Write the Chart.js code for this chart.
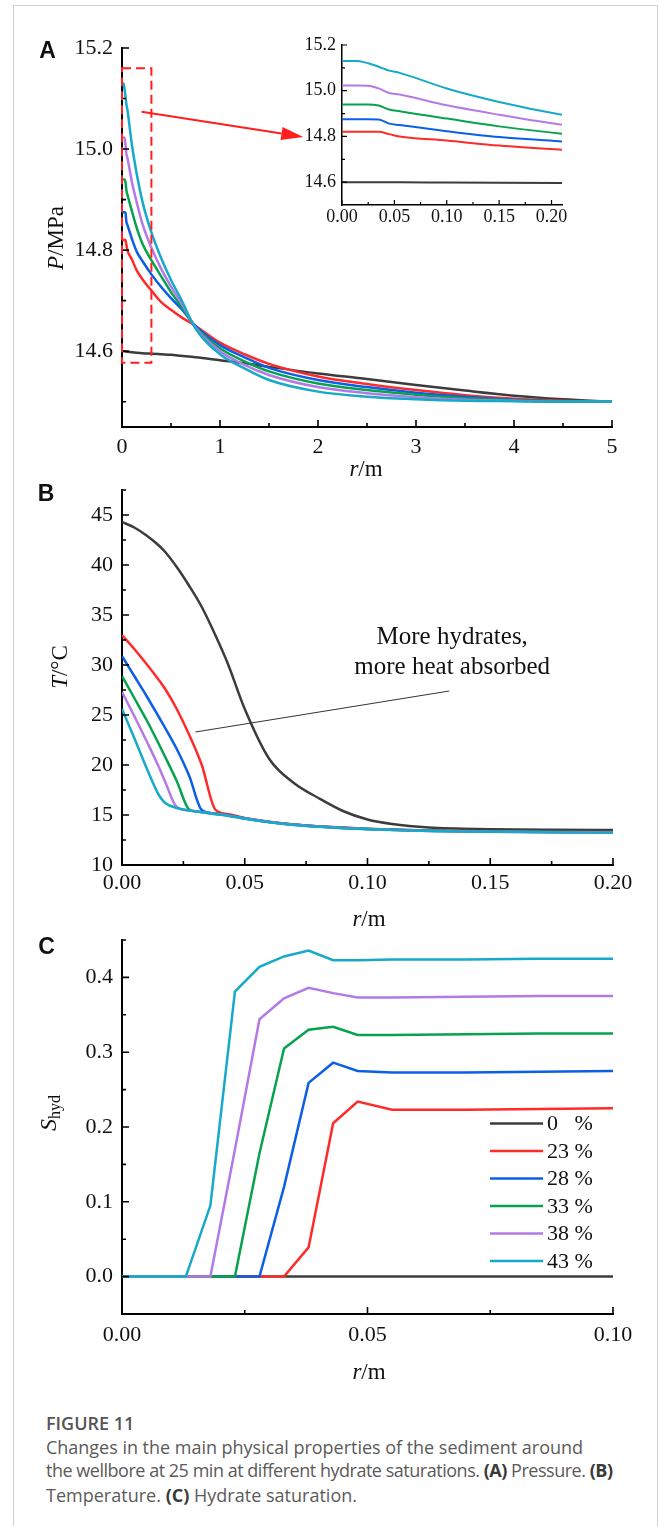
<!DOCTYPE html>
<html>
<head>
<meta charset="utf-8">
<script src="https://cdn.jsdelivr.net/npm/chart.js@4.4.1/dist/chart.umd.min.js"></script>
<style>
  html, body { margin: 0; padding: 0; background: #fff; }
  body { width: 659px; height: 1526px; position: relative; overflow: hidden; }
  #frame { position: absolute; left: 13px; top: 5px; width: 643px; height: 1600px; border: 1px solid #d2d2d2; }
  canvas { position: absolute; }
  .cap { position: absolute; left: 46px; font-family: "Open Sans", sans-serif; font-size: 18px; line-height: 24px; color: #5a5a5a; white-space: nowrap; }
  .cap b { color: #3a3a3a; font-weight: 700; }
  #fig { font-weight: 600; color: #555; }
</style>
</head>
<body>
<div id="frame"></div>
<canvas id="cA" width="659" height="482" style="left:0;top:0"></canvas>
<canvas id="cIn" width="300" height="225" style="left:290px;top:20px"></canvas>
<canvas id="cB" width="659" height="460" style="left:0;top:470px"></canvas>
<canvas id="cC" width="659" height="470" style="left:0;top:920px"></canvas>

<div class="cap" id="fig" style="top:1411px">FIGURE 11</div>
<div class="cap line" style="top:1435px" data-w="537">Changes in the main physical properties of the sediment around</div>
<div class="cap line" style="top:1458px" data-w="567">the wellbore at 25 min at different hydrate saturations. <b>(A)</b> Pressure. <b>(B)</b></div>
<div class="cap line" style="top:1483px" data-w="311">Temperature. <b>(C)</b> Hydrate saturation.</div>

<script>
// hydrate saturation of each case (legend)
const satLabels = ['0', '23', '28', '33', '38', '43'];
const colors = ['#3c3c3c', '#ff2b2b', '#0b5fe6', '#07a24e', '#b479e6', '#17a9c9'];

// (A) pressure, r in m, P in MPa
const rA = [0, 0.015, 0.025, 0.035, 0.045, 0.055, 0.1, 0.15, 0.21, 0.3, 0.4, 0.5, 0.6, 0.75, 1, 1.25, 1.5, 2, 2.5, 3, 3.5, 4, 4.5, 5];
const pS0  = [14.6, 14.6, 14.6, 14.6, 14.599, 14.599, 14.598, 14.597, 14.596, 14.595, 14.594, 14.593, 14.591, 14.588, 14.582, 14.576, 14.569, 14.556, 14.545, 14.533, 14.522, 14.512, 14.505, 14.5];
const pS23 = [14.82, 14.82, 14.82, 14.82, 14.81, 14.8, 14.782, 14.76, 14.742, 14.72, 14.697, 14.682, 14.668, 14.65, 14.617, 14.594, 14.575, 14.55, 14.535, 14.523, 14.513, 14.506, 14.502, 14.5];
const pS28 = [14.875, 14.875, 14.875, 14.874, 14.856, 14.85, 14.823, 14.797, 14.778, 14.752, 14.727, 14.705, 14.685, 14.65, 14.612, 14.588, 14.567, 14.543, 14.529, 14.518, 14.51, 14.504, 14.501, 14.5];
const pS33 = [14.94, 14.94, 14.94, 14.935, 14.918, 14.91, 14.878, 14.844, 14.812, 14.78, 14.748, 14.717, 14.69, 14.648, 14.606, 14.58, 14.56, 14.536, 14.523, 14.514, 14.507, 14.503, 14.501, 14.5];
const pS38 = [15.023, 15.023, 15.022, 15.01, 14.99, 14.983, 14.936, 14.895, 14.851, 14.805, 14.763, 14.728, 14.697, 14.647, 14.6, 14.573, 14.553, 14.529, 14.517, 14.509, 14.504, 14.502, 14.5, 14.5];
const pS43 = [15.13, 15.13, 15.12, 15.105, 15.088, 15.078, 15.01, 14.951, 14.895, 14.835, 14.784, 14.741, 14.704, 14.645, 14.594, 14.566, 14.543, 14.52, 14.51, 14.505, 14.502, 14.501, 14.5, 14.5];

// (B) temperature, r in m, T in degC
const rB = [0, 0.005, 0.01, 0.015, 0.0176, 0.0223, 0.0274, 0.0325, 0.038, 0.043, 0.05, 0.06, 0.07, 0.08, 0.09, 0.1, 0.11, 0.125, 0.15, 0.175, 0.2];
const tS0  = [44.3, 43.75, 42.95, 41.95, 41.3, 39.8, 37.9, 35.8, 33.0, 30.2, 25.6, 20.6, 18.2, 16.7, 15.4, 14.55, 14.1, 13.75, 13.58, 13.52, 13.5];
const tS23 = [33.0, 31.6, 30.1, 28.5, 27.6, 25.6, 23.0, 20.0, 15.55, 15.1, 14.7, 14.33, 14.05, 13.88, 13.74, 13.63, 13.55, 13.45, 13.37, 13.32, 13.3];
const tS28 = [30.9, 28.9, 26.9, 24.8, 23.7, 21.6, 18.9, 15.5, 15.15, 15.0, 14.68, 14.31, 14.04, 13.86, 13.72, 13.61, 13.53, 13.43, 13.35, 13.3, 13.28];
const tS33 = [28.9, 26.7, 24.5, 22.1, 20.8, 18.4, 15.55, 15.3, 15.12, 14.97, 14.66, 14.3, 14.03, 13.85, 13.71, 13.6, 13.52, 13.42, 13.34, 13.29, 13.27];
const tS38 = [27.3, 24.9, 22.4, 19.8, 18.3, 15.8, 15.45, 15.28, 15.1, 14.95, 14.64, 14.29, 14.02, 13.84, 13.7, 13.59, 13.51, 13.41, 13.33, 13.28, 13.26];
const tS43 = [25.6, 22.7, 19.7, 17.0, 16.2, 15.7, 15.45, 15.27, 15.08, 14.93, 14.62, 14.27, 14.0, 13.82, 13.68, 13.57, 13.5, 13.4, 13.32, 13.27, 13.25];

// (C) hydrate saturation
const rC = [0, 0.013, 0.018, 0.023, 0.028, 0.033, 0.038, 0.043, 0.048, 0.055, 0.07, 0.085, 0.1];
const hS0  = [0, 0, 0, 0, 0, 0, 0, 0, 0, 0, 0, 0, 0];
const hS23 = [0, 0, 0, 0, 0, 0, 0.039, 0.205, 0.234, 0.223, 0.223, 0.224, 0.225];
const hS28 = [0, 0, 0, 0, 0, 0.12, 0.259, 0.286, 0.275, 0.273, 0.273, 0.274, 0.275];
const hS33 = [0, 0, 0, 0, 0.165, 0.305, 0.33, 0.334, 0.323, 0.323, 0.324, 0.325, 0.325];
const hS38 = [0, 0, 0, 0.17, 0.344, 0.372, 0.386, 0.379, 0.373, 0.373, 0.374, 0.375, 0.375];
const hS43 = [0, 0, 0.095, 0.381, 0.414, 0.428, 0.436, 0.423, 0.423, 0.424, 0.424, 0.425, 0.425];

// tick values
const aXTicks = [0, 1, 2, 3, 4, 5], aXMinor = [0.5, 1.5, 2.5, 3.5, 4.5];
const aYTicks = [14.6, 14.8, 15.0, 15.2], aYMinor = [14.5, 14.7, 14.9, 15.1];
const inXTicks = [0, 0.05, 0.1, 0.15, 0.2], inXMinor = [0.025, 0.075, 0.125, 0.175];
const inYTicks = [14.6, 14.8, 15.0, 15.2], inYMinor = [14.7, 14.9, 15.1];
const bXTicks = [0, 0.05, 0.1, 0.15, 0.2], bXMinor = [0.025, 0.075, 0.125, 0.175];
const bYTicks = [10, 15, 20, 25, 30, 35, 40, 45], bYMinor = [12.5, 17.5, 22.5, 27.5, 32.5, 37.5, 42.5, 47.5];
const cXTicks = [0, 0.05, 0.1], cXMinor = [0.025, 0.075];
const cYTicks = [0, 0.1, 0.2, 0.3, 0.4], cYMinor = [-0.05, 0.05, 0.15, 0.25, 0.35, 0.45];

const serif = '"Liberation Serif","Times New Roman",serif';
const sans = '"Liberation Sans",Arial,sans-serif';

function sets(xs, series, mode, width) {
  return series.map((v, i) => ({
    label: satLabels[i] + ' %',
    data: xs.map((x, j) => ({ x, y: v[j] })),
    borderColor: colors[i],
    borderWidth: width,
    pointRadius: 0,
    fill: false,
    tension: 0,
    cubicInterpolationMode: mode,
    order: series.length - 1 - i
  }));
}

function axis(min, max, vals, digits, pad, size, fix, bw) {
  return {
    type: 'linear', min, max,
    border: { display: true, color: '#000', width: bw },
    grid: { display: false, drawTicks: false },
    afterBuildTicks: s => { s.ticks = vals.map(v => ({ value: v })); },
    afterFit: fix,
    ticks: {
      autoSkip: false, maxRotation: 0, padding: pad, color: '#111',
      font: { family: serif, size, lineHeight: 1 },
      callback: v => Number(v).toFixed(digits)
    }
  };
}

// inward major + minor ticks
function inTicks(xMinor, yMinor, major, minor, lw) {
  return {
    id: 'inTicks',
    afterDatasetsDraw(c) {
      const { ctx, chartArea: a, scales: { x, y } } = c;
      ctx.save();
      ctx.strokeStyle = '#000';
      ctx.lineWidth = lw;
      ctx.beginPath();
      const mk = (s, vals, len) => vals.forEach(v => {
        const p = s.getPixelForValue(v);
        if (s.axis === 'x') { ctx.moveTo(p, a.bottom); ctx.lineTo(p, a.bottom - len); }
        else { ctx.moveTo(a.left, p); ctx.lineTo(a.left + len, p); }
      });
      mk(x, x.ticks.map(t => t.value), major);
      mk(x, xMinor, minor);
      mk(y, y.ticks.map(t => t.value), major);
      mk(y, yMinor, minor);
      ctx.stroke();
      ctx.restore();
    }
  };
}

function fontOf(p) {
  return (p.i ? 'italic ' : '') + (p.b ? 'bold ' : '') + (p.s || 23) + 'px ' + (p.f || serif);
}

function rich(ctx, parts, x, y, rot) {
  ctx.save();
  ctx.translate(x, y);
  if (rot) ctx.rotate(-Math.PI / 2);
  let w = 0;
  parts.forEach(p => { ctx.font = fontOf(p); p.w = ctx.measureText(p.t).width; w += p.w; });
  let cx = -w / 2;
  ctx.textBaseline = 'middle';
  ctx.fillStyle = '#111';
  parts.forEach(p => { ctx.font = fontOf(p); ctx.fillText(p.t, cx, p.dy || 0); cx += p.w; });
  ctx.restore();
}

function makeChart(id, W, H, area, datasets, sx, sy, plugins) {
  return new Chart(document.getElementById(id), {
    type: 'line',
    data: { datasets },
    options: {
      responsive: false, animation: false, devicePixelRatio: 1, events: [],
      layout: { padding: { left: 0, top: area.top, right: W - area.right, bottom: 0 } },
      plugins: { legend: { display: false }, tooltip: { enabled: false } },
      scales: { x: sx, y: sy }
    },
    plugins
  });
}

// annotation positions (data coords)
const zoomBox = { r0: 0, r1: 0.3, p0: 14.577, p1: 15.16 };
const arrowA = { r0: 0.2, p0: 15.074, r1: 1.85, p1: 15.024 };
const noteB = { x1: 0.0299, y1: 23.3, x2: 0.1333, y2: 27.4, tx: 0.1345, ty1: 32.1, ty2: 29.1 };

// ---------- A ----------
const areaA = { left: 122, right: 612, top: 48, bottom: 427 };
makeChart('cA', 659, 482, areaA,
  sets(rA, [pS0, pS23, pS28, pS33, pS38, pS43], 'monotone', 2.5),
  axis(0, 5, aXTicks, 0, 9, 22, s => { s.height = 482 - areaA.bottom; }, 2),
  axis(14.45, 15.2, aYTicks, 1, 9, 22, s => { s.width = areaA.left; }, 2),
  [inTicks(aXMinor, aYMinor, 7, 4, 1.6), {
    id: 'decoA',
    afterDraw(c) {
      const { ctx, scales: { x, y } } = c;
      ctx.save();
      ctx.strokeStyle = '#ff1f1f'; ctx.fillStyle = '#ff1f1f'; ctx.lineWidth = 2;
      ctx.setLineDash([9, 5]);
      const x0 = x.getPixelForValue(zoomBox.r0), x1 = x.getPixelForValue(zoomBox.r1);
      const y0 = y.getPixelForValue(zoomBox.p1), y1 = y.getPixelForValue(zoomBox.p0);
      ctx.strokeRect(x0, y0, x1 - x0, y1 - y0);
      ctx.setLineDash([]);
      const ax = x.getPixelForValue(arrowA.r0), ay = y.getPixelForValue(arrowA.p0);
      const bx = x.getPixelForValue(arrowA.r1), by = y.getPixelForValue(arrowA.p1);
      const ang = Math.atan2(by - ay, bx - ax), hl = 22, hw = 6.5;
      const ex = bx - hl * Math.cos(ang), ey = by - hl * Math.sin(ang);
      ctx.beginPath(); ctx.moveTo(ax, ay); ctx.lineTo(ex, ey); ctx.stroke();
      ctx.beginPath();
      ctx.moveTo(bx, by);
      ctx.lineTo(ex + hw * Math.sin(ang), ey - hw * Math.cos(ang));
      ctx.lineTo(ex - hw * Math.sin(ang), ey + hw * Math.cos(ang));
      ctx.closePath(); ctx.fill();
      ctx.restore();
      rich(ctx, [{ t: 'A', b: 1, s: 23, f: sans }], 47.5, 52);
      rich(ctx, [{ t: 'P', i: 1 }, { t: '/MPa' }], 57, 238, true);
      rich(ctx, [{ t: 'r', i: 1 }, { t: '/m' }], 366, 470);
    }
  }]);

// ---------- inset of A ----------
const areaIn = { left: 52, right: 272, top: 25, bottom: 185 };
makeChart('cIn', 300, 225, areaIn,
  sets(rA, [pS0, pS23, pS28, pS33, pS38, pS43], 'monotone', 2),
  axis(0, 0.21, inXTicks, 2, 3, 18, s => { s.height = 225 - areaIn.bottom; }, 1.5),
  axis(14.5, 15.2, inYTicks, 1, 6, 18, s => { s.width = areaIn.left; }, 1.5),
  [inTicks(inXMinor, inYMinor, 5, 3, 1.2)]);

// ---------- B ----------
const areaB = { left: 122, right: 613, top: 12, bottom: 395 };
makeChart('cB', 659, 460, areaB,
  sets(rB, [tS0, tS23, tS28, tS33, tS38, tS43], 'monotone', 2.5),
  axis(0, 0.2, bXTicks, 2, 7, 22, s => { s.height = 460 - areaB.bottom; }, 2),
  axis(10, 47.5, bYTicks, 0, 9, 22, s => { s.width = areaB.left; }, 2),
  [inTicks(bXMinor, bYMinor, 7, 4, 1.6), {
    id: 'decoB',
    afterDraw(c) {
      const { ctx, scales: { x, y } } = c;
      ctx.save();
      ctx.strokeStyle = '#333'; ctx.lineWidth = 1;
      ctx.beginPath();
      ctx.moveTo(x.getPixelForValue(noteB.x1), y.getPixelForValue(noteB.y1));
      ctx.lineTo(x.getPixelForValue(noteB.x2), y.getPixelForValue(noteB.y2));
      ctx.stroke();
      ctx.fillStyle = '#111';
      ctx.font = '25px ' + serif;
      ctx.textAlign = 'center';
      ctx.textBaseline = 'alphabetic';
      ctx.fillText('More hydrates,', x.getPixelForValue(noteB.tx), y.getPixelForValue(noteB.ty1));
      ctx.fillText('more heat absorbed', x.getPixelForValue(noteB.tx), y.getPixelForValue(noteB.ty2));
      ctx.restore();
      rich(ctx, [{ t: 'B', b: 1, s: 23, f: sans }], 46, 25);
      rich(ctx, [{ t: 'T', i: 1 }, { t: '/°C' }], 61, 197, true);
      rich(ctx, [{ t: 'r', i: 1 }, { t: '/m' }], 369, 450);
    }
  }]);

// ---------- C ----------
const areaC = { left: 122, right: 613, top: 12, bottom: 394 };
makeChart('cC', 659, 470, areaC,
  sets(rC, [hS0, hS23, hS28, hS33, hS38, hS43], undefined, 2.5),
  axis(0, 0.1, cXTicks, 2, 10, 22, s => { s.height = 470 - areaC.bottom; }, 2),
  axis(-0.05, 0.45, cYTicks, 1, 9, 22, s => { s.width = areaC.left; }, 2),
  [inTicks(cXMinor, cYMinor, 7, 4, 1.6), {
    id: 'decoC',
    afterDraw(c) {
      const { ctx } = c;
      // legend
      ctx.save();
      ctx.font = '22px ' + serif;
      ctx.textBaseline = 'middle';
      ctx.fillStyle = '#111';
      const pctX = 547 + ctx.measureText('23 ').width;
      satLabels.forEach((s, i) => {
        const yy = 203.5 + i * 27.5;
        ctx.strokeStyle = colors[i]; ctx.lineWidth = 2.5;
        ctx.beginPath(); ctx.moveTo(490, yy); ctx.lineTo(543, yy); ctx.stroke();
        ctx.fillText(s, 547, yy + 1);
        ctx.fillText('%', pctX, yy + 1);
      });
      ctx.restore();
      rich(ctx, [{ t: 'C', b: 1, s: 23, f: sans }], 46.5, 28);
      rich(ctx, [{ t: 'S', i: 1, s: 24 }, { t: 'hyd', s: 16, dy: 6 }], 50, 193, true);
      rich(ctx, [{ t: 'r', i: 1 }, { t: '/m' }], 369, 453);
    }
  }]);

// fit caption lines to their measured widths
document.querySelectorAll('.cap.line').forEach(el => {
  const target = +el.dataset.w;
  const w = el.getBoundingClientRect().width;
  const n = el.textContent.length - 1;
  el.style.letterSpacing = ((target - w) / n).toFixed(3) + 'px';
});
</script>
</body>
</html>
